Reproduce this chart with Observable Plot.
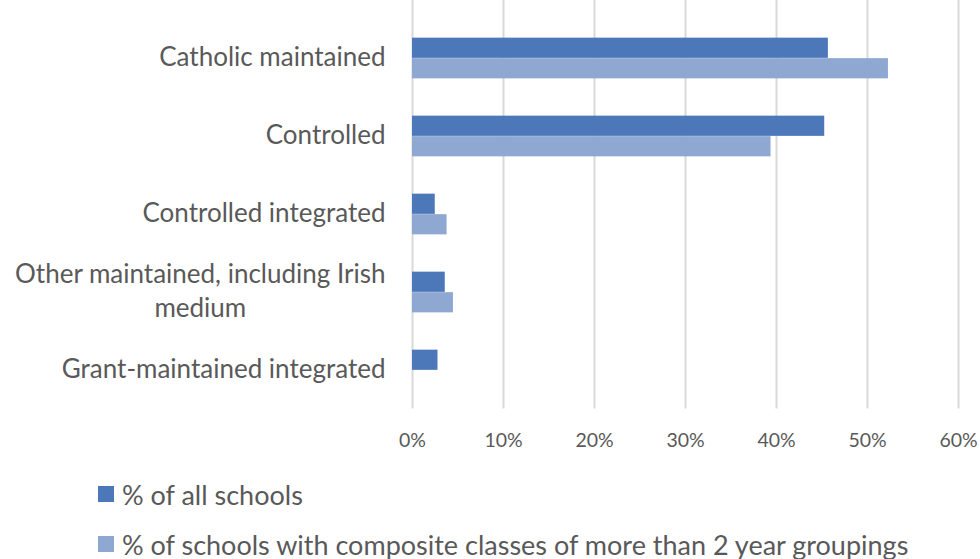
<!DOCTYPE html>
<html>
<head>
<meta charset="utf-8">
<script src="https://cdn.jsdelivr.net/npm/d3@7"></script>
<script src="https://cdn.jsdelivr.net/npm/@observablehq/plot@0.6"></script>
<style>
  html, body { margin: 0; padding: 0; background: #fff; }
  body { width: 980px; height: 559px; overflow: hidden; font-family: Lato, "Open Sans", sans-serif; color: #595959; }
  #legend { padding-left: 98px; padding-top: 4px; }
  .item { display: flex; align-items: center; height: 50px; font-size: 27px; }
  .sw { width: 16px; height: 16px; margin-right: 8px; }
</style>
</head>
<body>
<div id="chart"></div>
<div id="legend"></div>
<script>
const categories = ["Catholic maintained", "Controlled", "Controlled integrated", "Other maintained, including Irish medium", "Grant-maintained integrated"];
const categoryLabels = ["Catholic maintained", "Controlled", "Controlled integrated", "Other maintained, including Irish\nmedium", "Grant-maintained integrated"];
const seriesNames = ["% of all schools", "% of schools with composite classes of more than 2 year groupings"];
const allSchools = [45.7, 45.3, 2.5, 3.6, 2.8];
const compositeSchools = [52.3, 39.4, 3.8, 4.5, 0];
const xTicks = [0, 10, 20, 30, 40, 50, 60];
const seriesColors = ["#4C77B9", "#8EA8D2"];

const allData = categories.map((c, i) => ({category: c, series: seriesNames[0], value: allSchools[i] / 100}));
const compData = categories.map((c, i) => ({category: c, series: seriesNames[1], value: compositeSchools[i] / 100}));
const labelOf = new Map(categories.map((c, i) => [c, categoryLabels[i]]));
const pct = d => Math.round(d * 100) + "%";

// layout
const H = 465, MB = 56.5;
const plotBottom = H - MB;
const step = 78.3, barH = 20.5;
const outer = ((plotBottom / step) - categories.length) / 2;
const gap = step / 2 - barH;

const chart = Plot.plot({
  width: 980,
  height: H,
  marginLeft: 412,
  marginRight: 22,
  marginTop: 0,
  marginBottom: MB,
  style: {fontFamily: "Lato, 'Open Sans', sans-serif", color: "#595959", background: "white", overflow: "visible"},
  x: {domain: [0, 0.6], ticks: xTicks.map(t => t / 100), tickFormat: pct},
  y: {domain: categories, paddingInner: 0, paddingOuter: outer, align: 1},
  color: {domain: seriesNames, range: seriesColors},
  marks: [
    Plot.gridX({stroke: "#d9d9d9", strokeOpacity: 1, strokeWidth: 2}),
    Plot.barX(allData, {x: "value", y: "category", fill: "series", insetTop: gap, insetBottom: step / 2}),
    Plot.barX(compData, {x: "value", y: "category", fill: "series", insetTop: step / 2, insetBottom: gap}),
    Plot.axisX({tickSize: 0, tickPadding: 24, fontSize: 19.5, label: null, tickFormat: pct}),
    Plot.axisY({tickSize: 0, tickPadding: 27, fontSize: 26, lineHeight: 1.3, dy: -3, label: null, tickFormat: d => labelOf.get(d)})
  ]
});
document.getElementById("chart").appendChild(chart);

// Center wrapped category labels like the original
chart.querySelectorAll("text").forEach(t => {
  const spans = t.querySelectorAll("tspan");
  if (spans.length > 1) {
    const bb = t.getBBox();
    const right = bb.x + bb.width;
    let maxW = 0;
    spans.forEach(s => { maxW = Math.max(maxW, s.getComputedTextLength()); });
    t.setAttribute("text-anchor", "middle");
    spans.forEach(s => s.setAttribute("x", right - maxW / 2));
  }
});

const legend = document.getElementById("legend");
seriesNames.forEach((name, i) => {
  const item = document.createElement("div");
  item.className = "item";
  const sw = document.createElement("span");
  sw.className = "sw";
  sw.style.background = seriesColors[i];
  const label = document.createElement("span");
  label.textContent = name;
  item.appendChild(sw);
  item.appendChild(label);
  legend.appendChild(item);
});
</script>
</body>
</html>
